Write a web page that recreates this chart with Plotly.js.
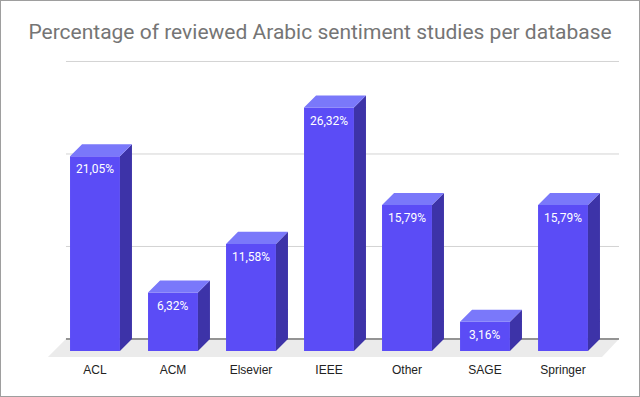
<!DOCTYPE html>
<html>
<head>
<meta charset="utf-8">
<script src="https://cdn.plot.ly/plotly-3.0.1.min.js"></script>
<style>
  body { margin: 0; background: #fff; }
  #chart { width: 640px; height: 397px; box-sizing: border-box; border: 1px solid #9e9e9e; }
</style>
</head>
<body>
<div id="chart"></div>
<script>
const databases = ["ACL", "ACM", "Elsevier", "IEEE", "Other", "SAGE", "Springer"];
const shares = [21.05, 6.32, 11.58, 26.32, 15.79, 3.16, 15.79];
const gridValues = [0, 10, 20, 30];

// pseudo 3d settings (in axis units)
const barWidth = 0.64;
const depthX = 0.154;
const depthY = 1.3;
const xRange = [-0.705, 6.859];
const yRange = [-0.649, 32.54];

const frontColor = "#5b4cf6";
const topColor = "#7a78fa";
const sideColor = "#3d33a8";

const xs = databases.map((d, i) => i);
const labels = shares.map(v => v.toFixed(2).replace(".", ",") + "%");

// side and top faces, one polygon per bar, split by nulls
const sideX = [], sideY = [], topX = [], topY = [];
shares.forEach((v, i) => {
  const l = i - barWidth / 2, r = i + barWidth / 2;
  sideX.push(r, r, r + depthX, r + depthX, r, null);
  sideY.push(0, v, v + depthY, depthY, 0, null);
  topX.push(l, r, r + depthX, l + depthX, l, null);
  topY.push(v, v, v + depthY, v + depthY, v, null);
});

const frontTrace = {
  type: "bar",
  x: xs,
  y: shares,
  width: barWidth,
  marker: { color: frontColor, line: { width: 0 } },
  hoverinfo: "skip",
};

const sideTrace = {
  type: "scatter", mode: "lines", x: sideX, y: sideY,
  fill: "toself", fillcolor: sideColor, line: { width: 0 }, hoverinfo: "skip",
};

const topTrace = {
  type: "scatter", mode: "lines", x: topX, y: topY,
  fill: "toself", fillcolor: topColor, line: { width: 0 }, hoverinfo: "skip",
};

// value labels just inside the top of each front face
const annotations = shares.map((v, i) => ({
  x: i, y: v, xref: "x", yref: "y",
  text: labels[i], showarrow: false,
  xanchor: "center", yanchor: "top", yshift: -4,
  font: { family: "Roboto", size: 12, color: "#ffffff" },
}));

// floor and back grid
const backL = -0.372, backR = 6.718, floorL = -0.603, floorR = 6.5;
const shapes = [{
  type: "path", xref: "x", yref: "y", layer: "below",
  path: `M ${floorL},${yRange[0]} L ${floorR},${yRange[0]} L ${backR},${depthY} L ${backL},${depthY} Z`,
  fillcolor: "#ebebeb", line: { width: 0 },
}];
gridValues.forEach(g => {
  shapes.push({
    type: "line", xref: "x", yref: "y", layer: "below",
    x0: backL, x1: backR, y0: g + depthY, y1: g + depthY,
    line: { color: g === 0 ? "#333333" : "#d3d3d3", width: 1 },
  });
});

const layout = {
  width: 638,
  height: 395,
  margin: { l: 39, r: 9, t: 49, b: 39 },
  paper_bgcolor: "#ffffff",
  plot_bgcolor: "#ffffff",
  showlegend: false,
  hovermode: false,
  title: {
    text: "Percentage of reviewed Arabic sentiment studies per database",
    font: { family: "Roboto", size: 21, color: "#757575" },
    x: 0.5, xanchor: "center", y: 0.922, yanchor: "middle",
  },
  xaxis: {
    range: xRange,
    tickvals: xs,
    ticktext: databases,
    ticks: "",
    ticklabelstandoff: 4,
    showgrid: false, zeroline: false, showline: false,
    tickfont: { family: "Liberation Sans", size: 12, color: "#222222" },
    fixedrange: true,
  },
  yaxis: {
    range: yRange,
    visible: false,
    fixedrange: true,
  },
  shapes: shapes,
  annotations: annotations,
};

Plotly.newPlot("chart", [frontTrace, sideTrace, topTrace], layout, { displayModeBar: false, staticPlot: true });
</script>
</body>
</html>
